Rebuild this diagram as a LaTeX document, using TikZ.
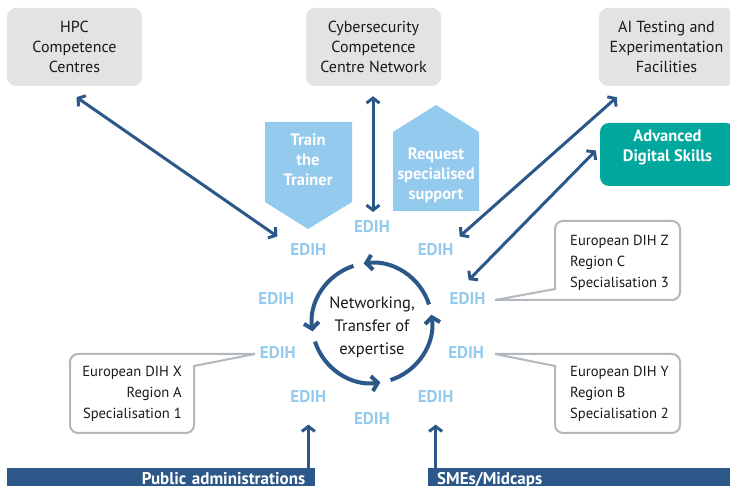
\documentclass[tikz,border=0pt]{standalone}
\usepackage{fontspec}
\setmainfont{PT Sans}
\usetikzlibrary{arrows.meta,math,calc}

\definecolor{hubgray}{RGB}{226,227,227}
\definecolor{edihblue}{RGB}{148,202,238}
\definecolor{eublue}{RGB}{44,88,137}
\definecolor{skillteal}{RGB}{0,167,157}
\definecolor{callgray}{RGB}{178,184,189}
\definecolor{ink}{RGB}{25,25,25}

\begin{document}
\begin{tikzpicture}[x=1pt,y=1pt,>={Straight Barb[length=5pt,width=13pt]},
	hub/.style={fill=hubgray,rounded corners=9pt,minimum width=135pt,
		minimum height=78pt,inner sep=0pt,align=center,text=ink,
		font=\fontsize{16}{20}\selectfont},
	skillbox/.style={fill=skillteal,rounded corners=9pt,minimum width=135pt,
		minimum height=63pt,inner sep=0pt},
	whitetext/.style={text=white,align=center,inner sep=0pt,
		font=\fontsize{16.5}{20}\bfseries\selectfont},
	edih/.style={text=edihblue,minimum width=40pt,minimum height=16pt,
		inner sep=0pt,font=\fontsize{17}{17}\bfseries\selectfont},
	link/.style={<->,draw=eublue,line width=3pt},
	uplink/.style={->,draw=eublue,line width=3pt},
	turn/.style={->,draw=eublue,line width=4pt,
		>={Straight Barb[length=6pt,width=15pt]}},
	callout/.style={draw=callgray,line width=2pt,fill=white},
	calltext/.style={text=ink,inner sep=0pt,
		font=\fontsize{14.6}{21}\selectfont},
	bar/.style={fill=eublue,text=white,anchor=north west,inner ysep=2pt,
		text height=14pt,text depth=14pt,
		font=\fontsize{17}{20}\bfseries\selectfont}
]

\tikzmath{
	real	\cx, \cy;
	\cx = 372;
	\cy = 163;
	real	\rx, \ry, \r;
	\rx = 99;
	\ry = 96;
	\r = 60;
}

\useasboundingbox (0,0) rectangle (730,486);

\node[hub] (hpc) at (74.5,439) {HPC\\Competence\\Centres};
\node[hub] (cyber) at (373.5,439) {Cybersecurity\\Competence\\Centre Network};
\node[hub] (ai) at (666.5,439) {AI Testing and\\Experimentation\\Facilities};

\node[skillbox] (ads) at (667.5,331.5) {};
\node[whitetext] (adstext) at (667.5,338.5) {Advanced\\Digital Skills};

\fill[edihblue] (265,364)--(352,364)--(352,284)--(308,257)--(265,284)--cycle;
\node[whitetext] (train) at (308,326) {Train\\the\\Trainer};

\fill[edihblue] (393,275)--(393,354)--(436,381)--(479,354)--(479,275)--cycle;
\node[whitetext] (request) at (436,311) {Request\\specialised\\support};

\foreach \a [count=\i] in {90,50,15,-18,-50,-90,230,198,165,130}
	\node[edih] (e\i) at ({\cx+\rx*cos(\a)},{\cy+\ry*sin(\a)}) {EDIH};

\draw[link] ($(hpc.south)+(2,-11)$) -- ($(e10)+(-31,13)$);
\draw[link] ($(e1|-cyber.south)+(1,-10)$) -- ($(e1)+(1,15)$);
\draw[link] ($(ai.south west)+(18,-11)$) -- ($(e2)+(24,13)$);
\draw[link] ($(ads.west)+(-4,4)$) -- ($(e3)+(1,18)$);

% networking circle
\foreach \s in {18,108,198,288}
	\draw[turn] ({\cx+\r*cos(\s)},{\cy+\r*sin(\s)}) arc (\s:\s+80:\r);
\node[calltext,align=center,font=\fontsize{16.5}{23}\selectfont] (net)
	at (\cx,\cy-4) {Networking,\\Transfer of\\expertise};

% callouts
\draw[callout] (495,186)--(555,197)--(555,257) arc (180:90:8)--(672,265)
	arc (90:0:8)--(680,194) arc (0:-90:8)--cycle;
\node[calltext,anchor=west,align=left] (dihz) at (570,223)
	{European DIH Z\\Region C\\Specialisation 3};

\draw[callout] (495,132)--(672,132) arc (90:0:8)--(680,61) arc (0:-90:8)
	--(563,53) arc (270:180:8)--(555,120)--cycle;
\node[calltext,anchor=west,align=left] (dihy) at (570,92)
	{European DIH Y\\Region B\\Specialisation 2};

\draw[callout] (255,132)--(78,132) arc (90:180:8)--(70,61) arc (180:270:8)
	--(186,53) arc (270:360:8)--(194,120)--cycle;
\node[calltext,anchor=east,align=right] (dihx) at (182,92)
	{European DIH X\\Region A\\Specialisation 1};

% target groups
\node[bar,inner xsep=10pt,text width=288pt,align=right] (pa) at (7,18)
	{Public administrations};
\node[bar,inner xsep=9pt,text width=300pt,align=left] (sme) at (428,18)
	{SMEs/Midcaps};

\draw[uplink] (e7|-pa.north) -- ($(e7)+(0,-28)$);
\draw[uplink] (e5|-sme.north) -- ($(e5)+(0,-28)$);

\end{tikzpicture}
\end{document}
